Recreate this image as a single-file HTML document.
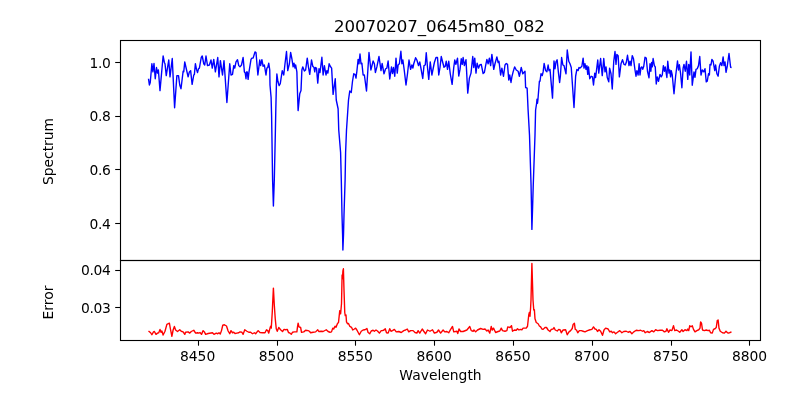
<!DOCTYPE html>
<html><head><meta charset="utf-8"><title>20070207_0645m80_082</title>
<style>
html,body{margin:0;padding:0;background:#fff;}
body{width:800px;height:400px;overflow:hidden;}
svg{display:block;}
text{font-family:"DejaVu Sans","Liberation Sans",sans-serif;fill:#000;}
</style></head><body>
<svg width="800" height="400" viewBox="0 0 800 400">
<rect x="0" y="0" width="800" height="400" fill="#ffffff"/>
<polyline fill="none" stroke="#0000ff" stroke-width="1.39" stroke-linejoin="round" stroke-linecap="butt" points="148.50,78.75 149.38,85.00 150.25,82.50 151.88,63.75 152.88,71.88 154.00,63.50 155.25,78.75 156.50,67.50 157.50,73.12 158.38,70.00 160.00,90.62 163.12,56.00 164.38,62.50 165.00,63.75 166.25,75.62 168.75,60.00 170.00,76.88 172.25,58.50 174.60,107.75 176.88,75.62 178.50,75.62 179.75,85.00 181.00,88.75 183.12,71.25 183.75,71.88 184.75,61.88 186.00,67.50 188.12,76.88 189.38,71.88 190.62,70.62 192.12,84.38 193.75,75.00 194.38,74.38 195.38,63.75 196.50,69.38 197.50,72.50 198.50,68.75 199.38,68.12 201.25,57.50 202.25,56.00 203.75,63.75 204.75,65.00 206.00,56.00 207.50,65.62 209.38,65.00 211.00,60.00 212.25,68.12 213.75,59.38 215.38,71.88 217.75,57.50 219.00,76.88 220.38,60.62 222.50,75.00 224.00,60.62 226.90,102.50 229.75,63.75 231.00,75.00 232.50,74.38 233.75,65.62 234.75,68.12 236.00,61.88 237.50,59.75 238.75,65.62 240.00,66.88 241.50,65.00 243.12,57.50 244.38,71.88 245.25,73.12 246.00,78.75 246.50,71.88 247.25,71.88 248.12,79.38 249.00,71.88 251.00,59.38 251.88,58.12 253.12,58.12 255.00,51.88 256.00,52.50 257.88,75.00 259.75,60.00 260.62,65.62 261.88,59.75 263.12,66.25 264.38,65.00 266.00,75.00 266.88,68.12 267.75,67.50 268.75,63.12 269.75,70.00 270.00,85.00 271.10,97.50 271.60,116.00 271.90,135.00 272.60,180.00 273.40,206.00 274.30,180.00 275.30,135.00 275.80,110.00 276.40,85.00 276.88,74.00 277.88,81.25 279.12,85.62 280.25,83.75 282.25,70.62 283.75,75.00 285.00,63.75 286.50,51.50 287.75,70.62 289.38,63.75 290.62,52.50 291.88,58.75 293.12,66.88 294.00,63.12 295.00,68.12 295.62,65.00 296.88,71.88 297.25,85.00 298.10,110.60 299.75,93.75 301.00,90.60 301.88,70.00 302.75,66.88 304.38,71.00 305.62,70.00 307.25,58.12 308.50,67.50 309.75,74.38 311.50,60.00 312.75,66.25 314.00,67.50 314.75,71.88 315.38,67.50 316.50,68.12 317.75,83.12 319.00,68.75 320.00,72.50 321.88,57.25 323.12,75.00 324.38,65.62 326.00,75.00 326.88,70.62 327.88,73.12 329.12,63.75 330.25,66.25 331.62,68.12 333.10,94.40 335.25,78.75 336.25,100.00 338.10,108.75 338.75,130.00 340.60,152.50 341.30,180.00 342.00,215.00 342.60,235.00 342.90,250.00 343.50,235.00 344.00,215.00 345.10,180.00 345.60,152.50 346.50,130.00 348.50,100.00 349.75,91.00 351.25,92.50 352.50,81.25 353.75,73.75 355.00,74.38 356.00,78.12 356.88,71.25 358.12,59.38 359.00,63.75 360.00,54.00 361.00,63.75 361.88,63.12 363.12,75.00 364.38,75.00 366.50,91.00 369.00,52.50 370.88,70.00 373.12,61.00 374.38,63.75 375.38,72.50 376.88,66.88 379.00,56.50 381.00,70.62 382.12,63.50 384.00,73.75 385.62,68.75 386.88,68.12 388.12,61.00 389.75,79.00 391.50,66.88 392.50,73.50 393.50,67.50 394.75,76.25 396.00,58.12 397.25,73.12 398.12,65.00 399.38,63.75 400.88,51.25 401.88,63.75 402.88,60.00 404.38,71.25 406.00,85.00 407.50,73.75 409.00,60.00 410.62,69.38 411.88,65.00 412.88,68.12 413.75,63.75 415.62,57.75 416.88,60.00 418.50,65.62 419.75,61.88 421.25,70.00 422.75,78.50 424.00,65.62 425.25,65.00 426.25,52.75 427.50,67.50 428.75,79.38 430.25,61.88 431.88,75.00 433.12,68.75 434.38,62.50 436.00,57.50 437.50,57.50 438.75,75.00 440.00,67.50 441.25,56.50 442.75,62.50 444.00,67.25 445.25,66.25 446.25,61.25 447.50,69.38 448.75,61.25 450.25,73.75 452.12,84.38 453.75,67.50 454.75,60.00 455.88,64.38 457.50,58.12 458.75,76.00 460.00,69.38 461.25,58.75 462.25,64.38 463.12,57.50 464.38,65.62 466.00,59.75 467.75,93.12 469.38,78.12 471.00,73.12 472.75,56.50 473.75,67.50 474.75,58.12 476.00,73.12 477.12,63.12 478.50,68.12 479.75,65.00 481.25,64.38 483.12,73.50 484.38,72.50 485.62,65.62 486.88,59.38 488.12,63.75 489.38,58.12 490.62,65.62 491.88,54.38 493.75,69.38 495.00,63.75 496.88,56.88 498.12,62.50 499.00,61.25 500.62,75.00 501.88,68.12 503.50,76.25 505.00,65.00 506.25,63.50 507.50,64.38 508.75,80.00 509.75,75.00 511.00,82.50 511.88,76.88 513.12,71.88 514.62,66.88 516.25,70.00 518.12,71.25 519.38,76.25 521.25,67.50 522.75,73.75 525.00,71.25 525.62,87.50 527.12,88.12 528.10,110.00 529.50,135.00 531.05,185.00 531.50,207.00 531.90,229.40 532.60,207.00 533.25,185.00 535.00,135.00 535.60,110.00 536.60,103.50 537.00,99.30 537.50,103.20 538.00,98.80 539.40,81.25 540.00,81.25 541.00,73.75 542.25,75.62 543.12,71.88 544.12,63.50 545.62,70.62 546.88,71.88 548.12,65.00 549.00,70.62 550.00,69.38 552.50,98.10 554.00,61.00 555.00,68.75 556.00,61.88 557.12,59.75 558.50,73.12 559.62,82.50 560.38,76.25 561.62,57.50 562.88,65.00 564.00,65.62 566.00,73.75 567.25,50.00 568.75,61.25 570.00,63.75 571.25,67.50 574.00,107.50 575.62,76.25 576.88,69.38 578.12,70.62 579.00,67.50 580.00,68.12 581.88,66.25 583.12,58.12 584.00,68.12 585.00,63.75 586.00,69.38 586.88,65.62 587.75,74.38 588.50,66.88 589.75,78.75 591.25,76.25 592.50,76.88 593.50,85.00 594.75,73.12 595.62,77.50 597.75,60.00 598.75,73.12 600.62,58.50 602.25,75.62 603.75,58.50 605.00,71.88 606.00,66.88 607.25,77.50 608.75,81.88 609.62,68.12 611.00,73.75 612.25,89.00 613.75,61.25 615.00,51.50 616.00,64.38 616.88,54.38 618.12,55.62 619.38,76.88 621.00,63.75 622.50,59.75 624.00,64.38 625.25,65.00 626.25,62.50 627.50,55.25 629.00,65.62 630.00,61.25 631.00,65.62 632.25,55.62 633.50,58.75 635.00,70.00 636.00,76.25 636.88,70.62 638.12,75.00 639.12,63.75 640.00,75.00 641.00,67.50 641.88,66.88 642.75,69.38 643.75,66.25 645.00,57.25 646.25,58.12 647.50,71.25 649.00,77.75 650.00,63.75 650.88,71.25 651.62,62.50 652.25,66.88 653.12,58.50 654.38,65.62 655.25,66.88 656.25,84.00 657.25,76.88 658.50,81.25 660.00,74.38 661.25,76.88 662.25,75.00 663.38,65.62 664.38,71.25 665.25,66.88 666.88,77.50 667.75,61.25 669.00,73.12 669.75,70.00 670.62,76.88 671.25,70.62 672.25,75.00 674.00,93.75 675.62,76.25 677.50,61.00 678.50,70.00 679.38,64.75 680.62,73.75 681.88,87.75 683.12,68.12 684.00,64.38 685.25,71.25 686.50,61.25 687.75,79.38 688.75,64.38 689.75,75.00 691.00,51.88 692.25,85.25 694.00,71.88 695.00,77.25 696.00,69.38 697.25,68.75 698.50,65.62 699.75,56.50 701.00,75.00 702.25,70.00 703.75,71.88 705.00,68.75 706.25,81.88 707.25,81.25 708.50,73.75 709.38,75.00 710.00,64.38 711.00,65.00 711.88,59.38 713.12,61.25 714.75,70.62 715.62,65.00 716.88,73.75 718.12,76.25 719.38,66.25 720.62,62.75 721.88,65.62 723.12,56.88 724.00,65.62 725.00,61.88 726.00,72.25 727.25,66.25 729.00,53.50 730.62,67.25 731.62,67.50"/>
<polyline fill="none" stroke="#ff0000" stroke-width="1.39" stroke-linejoin="round" stroke-linecap="butt" points="148.50,331.00 150.62,332.75 151.88,334.75 153.50,331.88 154.38,331.50 156.00,334.38 157.50,333.12 158.75,332.75 160.00,329.38 161.00,332.25 161.88,331.00 163.12,335.00 165.00,331.25 166.88,324.38 169.38,323.12 170.38,328.75 171.88,336.25 173.12,330.00 174.38,326.50 175.62,330.00 177.50,331.50 179.75,329.75 181.25,331.25 183.12,331.88 184.75,334.38 185.62,332.25 188.12,331.88 189.75,333.12 191.25,331.50 193.75,330.25 195.62,333.12 197.50,332.75 198.75,333.12 200.00,332.50 201.50,334.38 203.12,330.62 204.38,331.88 205.62,334.38 208.12,333.50 212.50,332.75 214.00,334.38 216.25,333.12 217.75,333.75 219.00,332.75 220.25,334.00 221.50,330.62 222.75,325.25 224.38,324.75 226.50,326.00 228.12,331.00 229.75,333.75 231.00,330.62 232.50,332.75 233.75,332.25 235.00,333.50 236.88,333.12 238.75,332.75 240.00,331.88 241.88,332.25 243.12,334.38 244.75,329.75 246.88,331.25 248.75,332.25 250.62,332.25 252.50,333.75 254.38,332.75 255.62,333.75 258.12,330.62 260.00,332.50 262.50,332.75 265.00,332.75 266.50,329.75 267.75,330.62 268.75,333.12 270.00,328.12 270.62,326.25 271.25,328.12 272.25,312.50 272.60,305.00 273.40,288.10 274.30,305.00 275.25,318.75 276.25,328.75 277.25,331.25 278.75,327.50 280.62,329.75 282.50,331.50 284.00,329.38 285.62,329.75 287.25,329.38 288.50,332.50 290.00,333.12 291.25,334.38 292.50,332.25 294.38,331.88 296.88,331.88 297.50,326.88 298.12,323.12 299.00,326.88 300.62,327.50 301.50,332.25 303.75,331.88 305.62,330.25 308.12,330.62 309.38,331.25 310.62,332.75 313.12,332.25 315.62,331.88 317.75,329.75 318.75,331.50 321.25,331.25 323.12,331.50 326.25,329.75 328.12,331.50 330.00,332.25 331.50,331.88 332.75,328.12 333.75,329.00 335.00,326.25 336.00,327.25 337.50,323.50 338.50,322.50 339.75,310.62 340.62,313.75 341.50,303.75 341.80,290.00 342.10,275.00 342.40,279.00 342.90,271.00 343.40,268.80 344.00,290.00 344.50,305.00 344.75,312.50 345.25,315.62 346.00,315.00 346.50,321.88 347.50,323.75 348.50,323.50 349.75,326.25 350.62,326.88 351.50,327.25 352.75,330.00 354.38,329.00 355.62,328.12 356.88,330.00 359.38,334.75 361.25,331.25 363.12,330.00 365.00,329.75 366.88,328.50 368.12,332.50 369.75,333.75 371.25,331.00 373.12,330.25 374.38,331.25 376.00,330.00 377.50,331.00 379.38,333.12 381.25,330.62 382.50,330.62 384.00,330.00 385.25,328.75 386.50,332.75 388.12,333.12 389.75,328.75 391.00,331.25 392.50,330.62 394.38,329.38 396.25,331.88 398.75,331.50 401.25,332.50 403.75,330.62 405.62,330.00 407.25,329.00 408.75,331.88 410.62,330.62 413.12,330.62 415.00,332.50 416.88,333.12 418.12,330.62 419.75,333.12 422.25,329.00 423.75,331.25 425.62,333.75 427.50,330.00 430.00,331.25 432.50,329.75 434.38,333.12 436.88,332.25 438.50,330.00 440.62,333.12 443.12,330.00 444.75,331.88 446.88,331.50 448.75,332.75 450.62,329.38 452.50,326.50 453.75,331.88 456.88,331.25 457.75,333.50 459.00,329.00 460.62,331.50 463.12,331.50 466.88,330.00 469.75,326.50 471.25,330.62 473.12,331.25 474.00,330.00 475.62,331.88 477.50,330.00 480.62,328.50 483.12,329.38 485.00,329.00 486.88,331.00 488.12,330.00 489.75,333.12 491.25,326.50 492.25,330.00 493.50,328.12 495.62,332.50 498.12,331.50 499.75,331.00 501.25,328.12 502.50,330.62 505.00,331.25 506.88,330.62 507.75,326.88 510.00,327.50 511.50,325.62 512.50,331.25 514.38,330.00 516.25,330.25 517.50,328.75 519.00,330.00 520.25,329.38 521.88,329.75 523.12,328.12 526.25,328.12 527.50,326.25 528.75,315.00 529.38,312.50 530.00,316.25 530.62,307.50 531.00,300.00 531.90,263.50 533.00,300.00 533.75,310.00 534.38,309.75 535.00,318.75 536.25,322.50 538.12,323.75 539.38,326.00 540.62,326.88 541.88,329.00 543.12,329.38 545.00,327.50 546.50,327.50 548.12,330.00 550.00,331.50 551.25,329.38 553.12,329.00 554.00,327.50 555.25,330.00 557.25,331.00 558.75,329.38 560.25,330.00 561.25,332.75 563.12,330.00 565.62,329.75 567.25,334.75 569.00,331.88 570.62,330.62 572.25,328.50 573.12,324.38 574.38,323.12 575.25,329.38 576.50,330.00 577.75,332.75 579.38,330.62 581.25,330.62 583.12,331.25 585.00,331.88 587.50,330.62 590.00,329.75 591.88,329.38 593.50,326.88 595.00,329.00 596.25,329.38 597.50,331.50 599.00,329.75 600.62,331.25 602.50,335.25 604.00,330.00 605.62,328.12 608.12,329.00 609.75,331.88 611.25,331.25 612.50,332.75 614.00,331.88 615.62,333.75 617.50,332.25 619.75,330.62 621.88,332.75 623.75,331.50 626.25,331.25 628.12,332.25 630.00,331.50 631.88,333.75 633.75,331.88 636.25,330.25 638.75,330.62 640.62,330.25 642.50,331.25 643.75,330.62 645.25,332.75 647.25,331.50 649.38,332.50 651.88,330.62 653.75,331.88 655.62,329.75 657.50,330.62 660.00,330.25 662.50,330.25 664.38,331.88 666.00,331.25 666.88,328.75 668.50,332.25 670.00,330.00 671.88,330.62 673.50,325.62 674.75,330.62 676.50,330.00 678.12,331.00 679.75,332.25 681.88,329.75 683.12,331.50 685.00,329.75 686.88,330.62 687.75,329.00 688.75,330.62 689.75,325.62 691.00,326.88 692.25,325.62 693.50,329.38 695.00,331.88 696.88,330.62 698.75,329.75 700.00,328.12 700.62,321.88 701.50,323.12 702.50,330.00 704.38,330.62 706.25,330.00 708.12,330.62 709.38,330.25 710.62,332.75 712.25,333.12 713.50,329.38 715.00,328.75 716.25,327.50 717.25,320.62 718.12,320.00 719.00,328.12 720.25,331.25 722.50,332.75 724.38,333.12 726.00,331.25 727.50,332.75 728.75,333.12 730.00,332.50 731.50,331.88"/>
<g fill="none" stroke="#000" stroke-width="1.111" stroke-linecap="square">
<rect x="120.5" y="40.5" width="640.0" height="220.0"/>
<rect x="120.5" y="260.5" width="640.0" height="80.0"/>
</g>
<g stroke="#000" stroke-width="1.08">
<line x1="198.5" y1="340.5" x2="198.5" y2="345.7"/>
<line x1="277.5" y1="340.5" x2="277.5" y2="345.7"/>
<line x1="355.5" y1="340.5" x2="355.5" y2="345.7"/>
<line x1="434.5" y1="340.5" x2="434.5" y2="345.7"/>
<line x1="513.5" y1="340.5" x2="513.5" y2="345.7"/>
<line x1="592.5" y1="340.5" x2="592.5" y2="345.7"/>
<line x1="671.5" y1="340.5" x2="671.5" y2="345.7"/>
<line x1="749.5" y1="340.5" x2="749.5" y2="345.7"/>
<line x1="115.2" y1="62.5" x2="120.5" y2="62.5"/>
<line x1="115.2" y1="116.5" x2="120.5" y2="116.5"/>
<line x1="115.2" y1="169.5" x2="120.5" y2="169.5"/>
<line x1="115.2" y1="223.5" x2="120.5" y2="223.5"/>
<line x1="115.2" y1="270.5" x2="120.5" y2="270.5"/>
<line x1="115.2" y1="307.5" x2="120.5" y2="307.5"/>
</g>
<g font-size="13.889px">
<text x="197.60" y="361.2" text-anchor="middle">8450</text>
<text x="276.45" y="361.2" text-anchor="middle">8500</text>
<text x="355.30" y="361.2" text-anchor="middle">8550</text>
<text x="434.15" y="361.2" text-anchor="middle">8600</text>
<text x="513.00" y="361.2" text-anchor="middle">8650</text>
<text x="591.85" y="361.2" text-anchor="middle">8700</text>
<text x="670.70" y="361.2" text-anchor="middle">8750</text>
<text x="749.55" y="361.2" text-anchor="middle">8800</text>
<text x="110.6" y="68" text-anchor="end" letter-spacing="-0.3px">1.0</text>
<text x="110.6" y="121" text-anchor="end" letter-spacing="-0.3px">0.8</text>
<text x="110.6" y="175" text-anchor="end" letter-spacing="-0.3px">0.6</text>
<text x="110.6" y="229" text-anchor="end" letter-spacing="-0.3px">0.4</text>
<text x="110.6" y="275" text-anchor="end" letter-spacing="-0.3px">0.04</text>
<text x="110.6" y="313" text-anchor="end" letter-spacing="-0.3px">0.03</text>
<text x="440.5" y="380" text-anchor="middle">Wavelength</text>
<text transform="translate(52.5,151.5) rotate(-90)" text-anchor="middle">Spectrum</text>
<text transform="translate(52.5,302.5) rotate(-90)" text-anchor="middle">Error</text>
</g>
<text x="439.3" y="31.7" font-size="16.667px" letter-spacing="-0.12px" text-anchor="middle">20070207_0645m80_082</text>
</svg>
</body></html>
